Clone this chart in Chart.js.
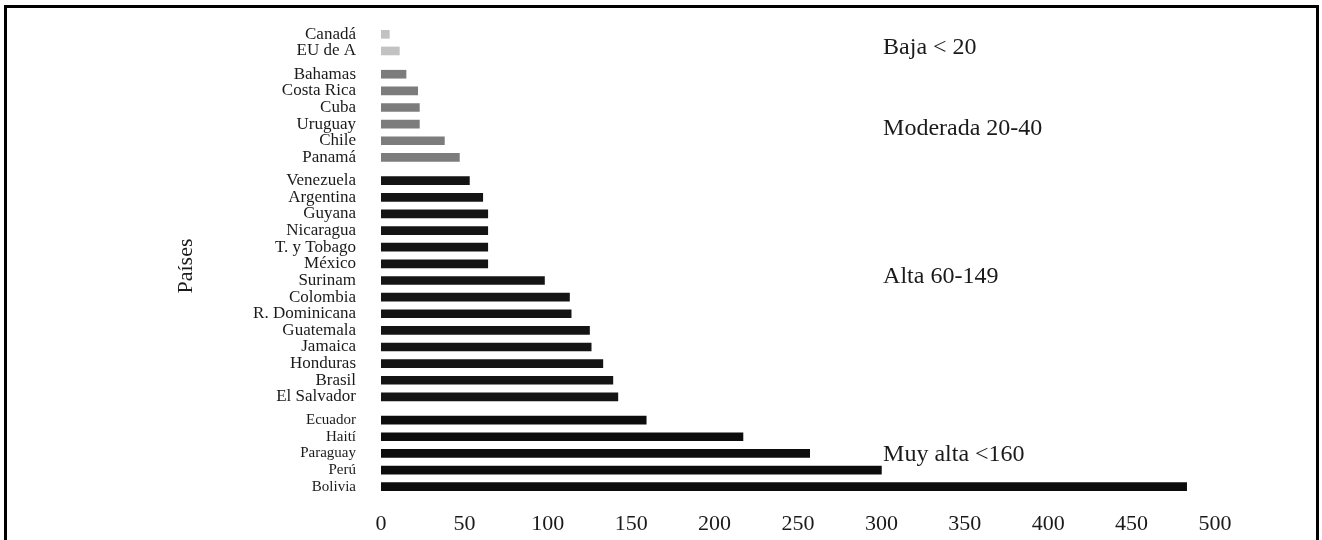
<!DOCTYPE html>
<html lang="es">
<head>
    <meta charset="UTF-8">
    <title>Mortalidad por países</title>
    <style>
        body {
            margin: 0;
            padding: 0;
            background: #fff;
            overflow: hidden;
        }

        /* scanned frame, bottom edge is cut off */
        .frame {
            position: absolute;
            left: 4px;
            top: 5px;
            width: 1309px;
            height: 600px;
            border: 3px solid #000;
            border-bottom: none;
        }

        .chart-box {
            position: absolute;
            left: 0;
            top: 0;
            width: 1322px;
            height: 540px;
        }
    </style>
</head>
<body>
    <div class="frame"></div>
    <div class="chart-box">
        <canvas id="mortChart"></canvas>
    </div>

    <script src="https://cdn.jsdelivr.net/npm/chart.js"></script>
    <script>
        // Countries, top to bottom
        const countries = [
            'Canadá', 'EU de A',
            'Bahamas', 'Costa Rica', 'Cuba', 'Uruguay', 'Chile', 'Panamá',
            'Venezuela', 'Argentina', 'Guyana', 'Nicaragua', 'T. y Tobago', 'México',
            'Surinam', 'Colombia', 'R. Dominicana', 'Guatemala', 'Jamaica', 'Honduras',
            'Brasil', 'El Salvador',
            'Ecuador', 'Haití', 'Paraguay', 'Perú', 'Bolivia'
        ];

        // Values
        const values = [
            5, 11,
            15, 22, 23, 23, 38, 47,
            53, 61, 64, 64, 64, 64,
            98, 113, 114, 125, 126, 133,
            139, 142,
            159, 217, 257, 300, 483
        ];

        // Group of each country (0 baja, 1 moderada, 2 alta, 3 muy alta)
        const groups = [
            0, 0,
            1, 1, 1, 1, 1, 1,
            2, 2, 2, 2, 2, 2, 2, 2, 2, 2, 2, 2, 2, 2,
            3, 3, 3, 3, 3
        ];

        const groupColors = ['#c2c2c2', '#7c7c7c', '#141414', '#0c0c0c'];
        const groupNotes = ['Baja < 20', 'Moderada 20-40', 'Alta 60-149', 'Muy alta <160'];
        const xTicks = [0, 50, 100, 150, 200, 250, 300, 350, 400, 450, 500];

        // row position: index plus a small gap between groups
        const groupGap = 0.4;
        const rowPos = countries.map((c, i) => i + groups[i] * groupGap);
        const lastPos = rowPos[rowPos.length - 1];

        const points = values.map((v, i) => ({ x: v, y: rowPos[i] }));

        const serif = "'Liberation Serif', 'DejaVu Serif', serif";

        // note texts and the rotated axis name
        const notesPlugin = {
            id: 'notes',
            afterDraw(chart) {
                const ctx = chart.ctx;
                const y = chart.scales.y;
                const x = chart.scales.x;
                ctx.save();
                ctx.fillStyle = '#1a1a1a';
                ctx.font = '24px ' + serif;
                ctx.textAlign = 'left';
                ctx.textBaseline = 'middle';
                const noteRows = [0.78, 5.65, 14.6, 25.3];
                const nx = x.getPixelForValue(301);
                noteRows.forEach((r, i) => {
                    ctx.fillText(groupNotes[i], nx, y.getPixelForValue(r));
                });

                ctx.font = '22px ' + serif;
                ctx.translate(186, 266);
                ctx.rotate(-Math.PI / 2);
                ctx.textAlign = 'center';
                ctx.fillText('Países', 0, 0);
                ctx.restore();
            }
        };

        new Chart(document.getElementById('mortChart'), {
            type: 'bar',
            data: {
                datasets: [{
                    data: points,
                    backgroundColor: groups.map(g => groupColors[g]),
                    barThickness: 8,
                    borderWidth: 0
                }]
            },
            options: {
                indexAxis: 'y',
                responsive: true,
                maintainAspectRatio: false,
                animation: false,
                layout: {
                    padding: { top: 26, right: 107, bottom: 0, left: 0 }
                },
                plugins: {
                    legend: { display: false },
                    tooltip: { enabled: false }
                },
                scales: {
                    x: {
                        type: 'linear',
                        min: 0,
                        max: 500,
                        grid: { display: false },
                        border: { display: false },
                        afterBuildTicks: s => { s.ticks = xTicks.map(v => ({ value: v })); },
                        afterFit: s => { s.height = 45; s.paddingLeft = 0; s.paddingRight = 0; },
                        ticks: {
                            padding: 8,
                            color: '#1a1a1a',
                            font: { family: serif, size: 22 }
                        }
                    },
                    y: {
                        type: 'linear',
                        reverse: true,
                        offset: false,
                        min: -0.5,
                        max: lastPos + 0.5,
                        grid: { display: false, offset: false },
                        border: { display: false },
                        afterBuildTicks: s => { s.ticks = rowPos.map(v => ({ value: v })); },
                        afterFit: s => { s.width = 381; s.paddingTop = 0; s.paddingBottom = 0; },
                        ticks: {
                            autoSkip: false,
                            padding: 17,
                            color: '#1a1a1a',
                            font: ctx => ({ family: serif, size: groups[ctx.index] === 3 ? 15 : 17 }),
                            callback: (v, i) => countries[i]
                        }
                    }
                }
            },
            plugins: [notesPlugin]
        });
    </script>
</body>
</html>
